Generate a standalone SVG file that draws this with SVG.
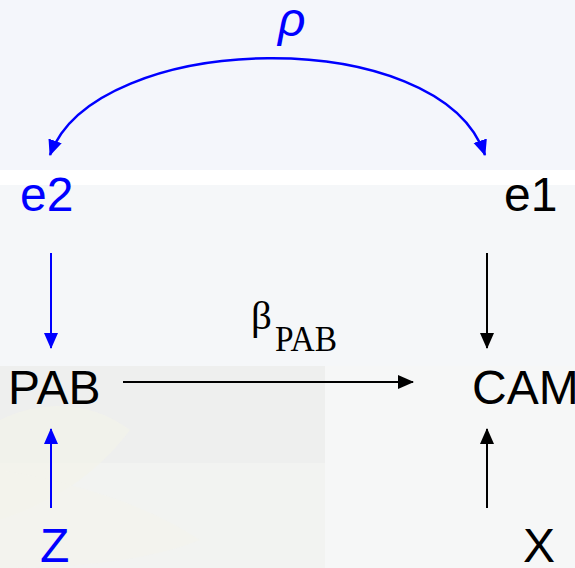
<svg xmlns="http://www.w3.org/2000/svg" width="575" height="568" viewBox="0 0 575 568">
  <style>
    .lbl { font-family: "Liberation Sans", Arial, sans-serif; font-size: 48px; }
    .blue { fill: #0000ff; }
    .black { fill: #000000; }
    .lnb { stroke: #0000ff; fill: none; }
    .lnk { stroke: #000000; fill: none; }
    .serif { font-family: "Liberation Serif", "Times New Roman", serif; fill: #000000; }
  </style>
  <defs>
    <marker id="ahBlue" markerUnits="userSpaceOnUse" markerWidth="16" markerHeight="16" viewBox="0 0 16 14" refX="15" refY="7" orient="auto-start-reverse">
      <path d="M0,0 L16,7 L0,14 Z" fill="#0000ff"/>
    </marker>
    <marker id="ahBlack" markerUnits="userSpaceOnUse" markerWidth="16" markerHeight="16" viewBox="0 0 16 14" refX="15" refY="7" orient="auto-start-reverse">
      <path d="M0,0 L16,7 L0,14 Z" fill="#000000"/>
    </marker>
  </defs>

  <g id="background">
    <rect x="0" y="0" width="575" height="170" fill="#f4f6fb"/>
    <rect x="0" y="170" width="575" height="15" fill="#ffffff"/>
    <rect x="0" y="185" width="575" height="181" fill="#f5f7f9"/>
    <rect x="0" y="366" width="575" height="202" fill="#f6f7f7"/>
    <rect x="0" y="366" width="325" height="97" fill="#eeefee"/>
    <rect x="0" y="463" width="325" height="105" fill="#f2f3f1"/>
    <path d="M0,420 C40,400 90,400 130,430 C100,470 60,500 0,520 Z" fill="#f3f3ea" opacity="0.6"/>
    <path d="M0,470 C60,480 140,500 200,540 C150,560 80,568 0,568 Z" fill="#f4f4ec" opacity="0.6"/>
  </g>

  <g id="connectors">
    <path class="lnb" stroke-width="2.5" d="M50,155 C95,30 440,22 485,155" marker-start="url(#ahBlue)" marker-end="url(#ahBlue)"/>
    <line class="lnb" stroke-width="2" x1="51" y1="253" x2="51" y2="348" marker-end="url(#ahBlue)"/>
    <line class="lnk" stroke-width="2" x1="487" y1="253" x2="487" y2="348" marker-end="url(#ahBlack)"/>
    <line class="lnk" stroke-width="2" x1="123" y1="382" x2="413" y2="382" marker-end="url(#ahBlack)"/>
    <line class="lnb" stroke-width="2" x1="51" y1="508" x2="51" y2="429" marker-end="url(#ahBlue)"/>
    <line class="lnk" stroke-width="2" x1="487" y1="508" x2="487" y2="429" marker-end="url(#ahBlack)"/>
    <g id="label-beta">
      <text class="serif" x="251" y="329" font-size="41">β</text>
      <text class="serif" x="275" y="351" font-size="36" textLength="62" lengthAdjust="spacingAndGlyphs">PAB</text>
    </g>
    <text class="lbl blue" x="278" y="36" font-style="italic">ρ</text>
  </g>

  <g id="node-e2"><text class="lbl blue" x="20" y="211">e2</text></g>
  <g id="node-e1"><text class="lbl black" x="504" y="211">e1</text></g>
  <g id="node-PAB"><text class="lbl black" x="8" y="404">PAB</text></g>
  <g id="node-CAM"><text class="lbl black" x="472" y="404" font-size="47">CAM</text></g>
  <g id="node-Z"><text class="lbl blue" x="40" y="562">Z</text></g>
  <g id="node-X"><text class="lbl black" x="523" y="562">X</text></g>
</svg>
